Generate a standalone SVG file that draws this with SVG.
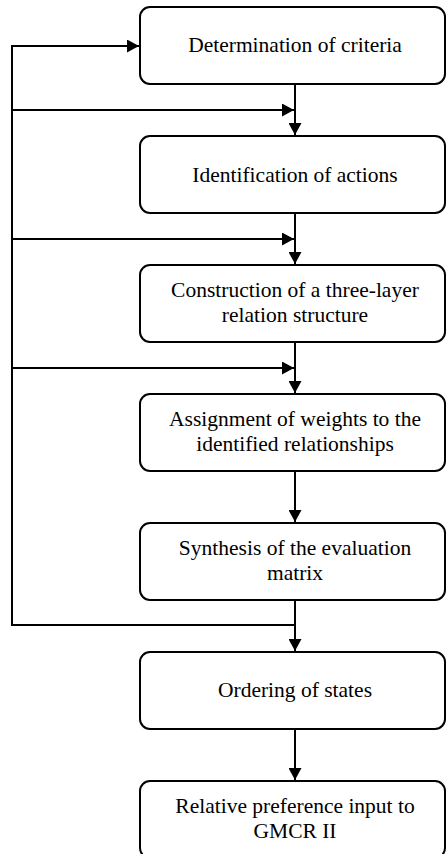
<svg xmlns="http://www.w3.org/2000/svg" width="446" height="854" viewBox="0 0 446 854">
<style>
.box{fill:#fff;stroke:#000;stroke-width:2}
.t{font-family:'Liberation Serif','Times New Roman','DejaVu Serif',serif;font-size:21.5px;fill:#000;text-anchor:middle}
.c{fill:none;stroke:#000;stroke-width:2}
</style>
<defs>
<marker id="ah" markerUnits="userSpaceOnUse" markerWidth="12" markerHeight="13" refX="12" refY="6.5" orient="auto">
<path d="M0,0 L12,6.5 L0,13 z" fill="#000"/>
</marker>
</defs>
<g id="connectors">
<path class="c" d="M295,84 V135" marker-end="url(#ah)"/>
<path class="c" d="M295,213 V264" marker-end="url(#ah)"/>
<path class="c" d="M295,342 V393" marker-end="url(#ah)"/>
<path class="c" d="M295,471 V522" marker-end="url(#ah)"/>
<path class="c" d="M295,600 V651" marker-end="url(#ah)"/>
<path class="c" d="M295,729 V780" marker-end="url(#ah)"/>
<path class="c" d="M295,625 H12 V46 H139" marker-end="url(#ah)"/>
<path class="c" d="M12,110 H294" marker-end="url(#ah)"/>
<path class="c" d="M12,239 H294" marker-end="url(#ah)"/>
<path class="c" d="M12,368 H294" marker-end="url(#ah)"/>
</g>
<g font-family="Liberation Serif, Times New Roman, serif">
<g id="n1"><rect class="box" x="140" y="7" width="305" height="77" rx="10"/><text class="t" x="295" y="52">Determination of criteria</text></g>
<g id="n2"><rect class="box" x="140" y="136" width="305" height="77" rx="10"/><text class="t" x="295" y="182">Identification of actions</text></g>
<g id="n3"><rect class="box" x="140" y="265" width="305" height="77" rx="10"/><text class="t" x="295" y="297">Construction of a three-layer</text><text class="t" x="295" y="322">relation structure</text></g>
<g id="n4"><rect class="box" x="140" y="394" width="305" height="77" rx="10"/><text class="t" x="295" y="426">Assignment of weights to the</text><text class="t" x="295" y="451">identified relationships</text></g>
<g id="n5"><rect class="box" x="140" y="523" width="305" height="77" rx="10"/><text class="t" x="295" y="555">Synthesis of the evaluation</text><text class="t" x="295" y="580">matrix</text></g>
<g id="n6"><rect class="box" x="140" y="652" width="305" height="77" rx="10"/><text class="t" x="295" y="697">Ordering of states</text></g>
<g id="n7"><rect class="box" x="140" y="781" width="305" height="77" rx="10"/><text class="t" x="295" y="813">Relative preference input to</text><text class="t" x="295" y="838">GMCR II</text></g>
</g>
</svg>
